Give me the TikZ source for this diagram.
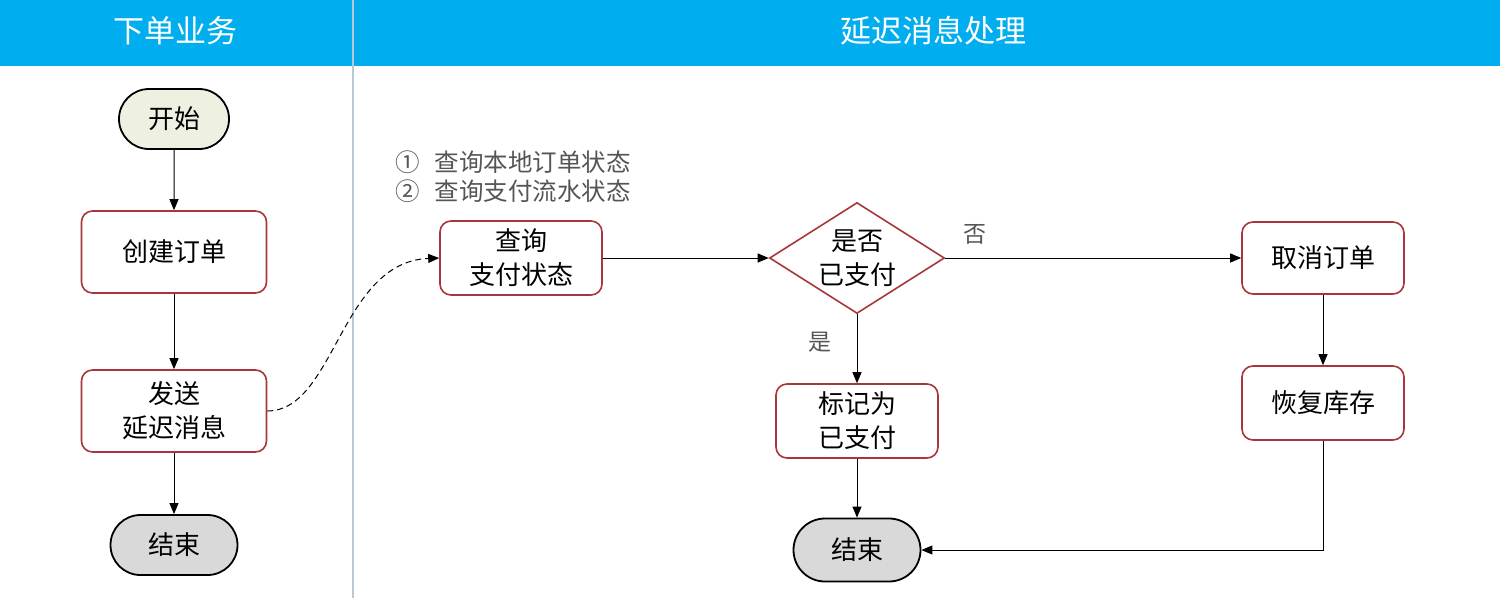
\documentclass[tikz,border=0pt]{standalone}
\usepackage{fontspec}
\setmainfont{Noto Sans CJK SC}
\usetikzlibrary{shapes.geometric,shapes.misc,arrows.meta}
\definecolor{hdr}{HTML}{00AEEF}
\definecolor{boxred}{HTML}{A8363C}
\definecolor{startfill}{HTML}{EEF0E2}
\definecolor{endfill}{HTML}{D9D9D9}
\definecolor{divider}{HTML}{B8C8D8}
\definecolor{note}{HTML}{555555}
\tikzset{
  proc/.style={draw=boxred, line width=1.6pt, rounded corners=11pt, fill=white,
    minimum width=185pt, minimum height=82pt, align=center, font=\fontsize{26}{34}\selectfont, inner sep=0pt},
  procs/.style={proc, minimum width=162pt, minimum height=74pt},
  term/.style={draw=black, line width=1.8pt, rounded rectangle, minimum height=60pt, inner sep=0pt,
    font=\fontsize{26}{34}\selectfont},
  decide/.style={draw=boxred, line width=1.6pt, diamond, aspect=1.58, minimum width=175pt, minimum height=111pt,
    inner sep=0pt, align=center, font=\fontsize{26}{34}\selectfont},
  arr/.style={-{Triangle[length=11pt,width=9pt]}, line width=1pt},
  hdrtext/.style={text=white, font=\fontsize{31}{36}\selectfont},
  lbl/.style={text=note, font=\fontsize{23}{28}\selectfont},
  notetext/.style={text=note, font=\fontsize{24.5}{29}\selectfont, inner sep=0pt},
}
\begin{document}
\begin{tikzpicture}[x=1pt,y=-1pt]
\useasboundingbox (0,0) rectangle (1500,598);
\fill[white] (0,0) rectangle (1500,598);
\fill[hdr] (0,0) rectangle (1500,66);
\draw[divider, line width=2.5pt] (353,0) -- (353,598);
\node[hdrtext] (h1) at (175,31) {下单业务};
\node[hdrtext] (h2) at (933,31) {延迟消息处理};

\node[term, fill=startfill, minimum width=110pt] (start) at (174,119) {开始};
\node[proc] (create) at (174,252) {创建订单};
\node[proc] (send) at (174,411) {发送\\延迟消息};
\node[term, fill=endfill, minimum width=127pt] (end1) at (174,545) {结束};

\draw[arr] (start) -- (create);
\draw[arr] (create) -- (send);
\draw[arr] (send) -- (end1);

\node[procs] (query) at (521,258) {查询\\支付状态};
\node[decide] (paid) at (857,258) {是否\\已支付};
\node[procs, minimum height=72pt] (cancel) at (1323,258) {取消订单};
\node[procs] (restore) at (1323,403) {恢复库存};
\node[procs] (mark) at (857,421) {标记为\\已支付};
\node[term, fill=endfill, minimum width=127pt, minimum height=63pt] (end2) at (857,550) {结束};

\node[notetext, anchor=west] (n1) at (395,162) {①\hspace{15pt}查询本地订单状态};
\node[notetext, anchor=west] (n2) at (395,191) {②\hspace{15pt}查询支付流水状态};

\draw[dash pattern=on 6pt off 4pt, line width=1pt, -{Triangle[length=11pt,width=9pt]}] (send.east) .. controls (335,411) and (340,262) .. (query.west);
\draw[arr] (query) -- (paid);
\draw[arr] (paid) -- node[lbl, pos=0.1, above=10pt] (no) {否} (cancel);
\draw[arr] (cancel) -- (restore);
\draw[arr] (paid.south) -- node[lbl, pos=0.4, left=22pt] (yes) {是} (mark.north);
\draw[arr] (mark) -- (end2);
\coordinate (corner) at (restore.south |- end2.east);
\draw[arr] (restore.south) -- (corner) -- (end2.east);
\end{tikzpicture}
\end{document}
